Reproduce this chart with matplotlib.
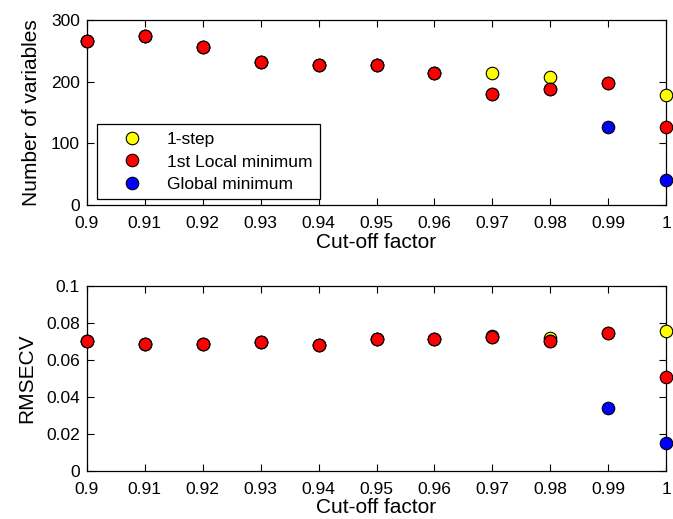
import matplotlib
matplotlib.use("Agg")
import matplotlib.pyplot as plt
from matplotlib.ticker import FuncFormatter

plt.rcParams["font.family"] = ["Liberation Sans", "DejaVu Sans"]

# ── Data ──────────────────────────────────────────────────────────────────────
cutoff = [0.90, 0.91, 0.92, 0.93, 0.94, 0.95, 0.96, 0.97, 0.98, 0.99, 1.00]

nvar_1step = [266, 274, 256, 232, 228, 228, 215, 215, 208, 198, 179]
nvar_local = [266, 274, 256, 232, 228, 228, 215, 180, 189, 198, 126]
nvar_global = [266, 274, 256, 232, 228, 228, 215, 180, 189, 126, 40]

rmse_1step = [0.0704, 0.069, 0.069, 0.0697, 0.0683, 0.0717, 0.0717, 0.0733, 0.0722, 0.0748, 0.0757]
rmse_local = [0.0704, 0.069, 0.069, 0.0697, 0.0683, 0.0717, 0.0717, 0.0726, 0.0704, 0.0748, 0.051]
rmse_global = [0.0704, 0.069, 0.069, 0.0697, 0.0683, 0.0717, 0.0717, 0.0726, 0.0704, 0.0342, 0.015]

x_ticks = [0.9, 0.91, 0.92, 0.93, 0.94, 0.95, 0.96, 0.97, 0.98, 0.99, 1.0]

# ── Figure ────────────────────────────────────────────────────────────────────
fig = plt.figure(figsize=(6.73, 5.19), dpi=100)
ax1 = fig.add_axes([0.129, 0.605, 0.861, 0.356])
ax2 = fig.add_axes([0.129, 0.0925, 0.861, 0.356])

mk = dict(marker="o", linestyle="none", markersize=9, markeredgecolor="black",
          markeredgewidth=0.8, clip_on=False)


def draw(ax, y1, yl, yg):
    h1, = ax.plot(cutoff, y1, markerfacecolor="#ffff00", zorder=3, **mk)
    hg, = ax.plot(cutoff, yg, markerfacecolor="#0000ff", zorder=4, **mk)
    hl, = ax.plot(cutoff, yl, markerfacecolor="#ff0000", zorder=5, **mk)
    ax.set_xlim(0.9, 1.0)
    ax.set_xticks(x_ticks)
    ax.xaxis.set_major_formatter(FuncFormatter(lambda v, p: f"{v:g}"))
    ax.yaxis.set_major_formatter(FuncFormatter(lambda v, p: f"{v:g}"))
    ax.tick_params(direction="in", top=True, right=True, length=5, width=0.8,
                   labelsize=12.5)
    ax.tick_params(axis="x", pad=8)
    ax.tick_params(axis="y", pad=5)
    ax.set_xlabel("Cut-off factor", fontsize=15, labelpad=1)
    for s in ax.spines.values():
        s.set_linewidth(0.9)
    return h1, hl, hg


h1, hl, hg = draw(ax1, nvar_1step, nvar_local, nvar_global)
ax1.set_ylim(0, 300)
ax1.set_yticks([0, 100, 200, 300])
ax1.set_ylabel("Number of variables", fontsize=15, labelpad=7)

leg = ax1.legend([h1, hl, hg], ["1-step", "1st Local minimum", "Global minimum"],
                 loc="lower left", bbox_to_anchor=(0.017, 0.03), fontsize=12.5,
                 frameon=True, fancybox=False, edgecolor="black", framealpha=1,
                 handlelength=3.2, handletextpad=0.4, borderpad=0.45,
                 labelspacing=0.4, borderaxespad=0)
leg.get_frame().set_linewidth(0.9)

draw(ax2, rmse_1step, rmse_local, rmse_global)
ax2.set_ylim(0, 0.1)
ax2.set_yticks([0, 0.02, 0.04, 0.06, 0.08, 0.1])
ax2.set_ylabel("RMSECV", fontsize=15, labelpad=7)

fig.savefig("out.png", dpi=100)
